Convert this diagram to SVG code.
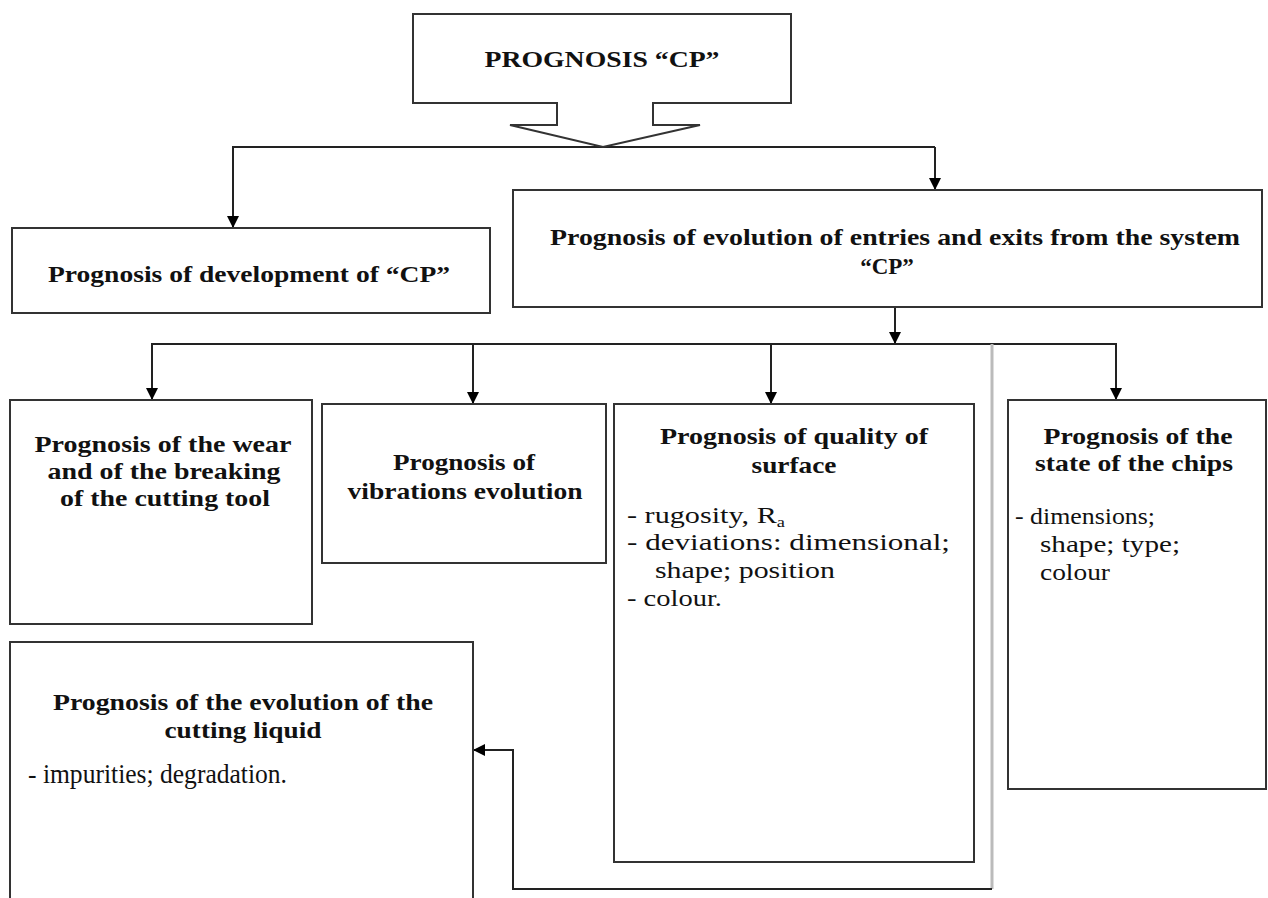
<svg xmlns="http://www.w3.org/2000/svg" width="1268" height="898" viewBox="0 0 1268 898">
<style>
.box{fill:#fff;stroke:#333;stroke-width:2}
.t{font-family:Tinos,"Liberation Serif","Times New Roman","DejaVu Serif",serif;font-weight:bold;font-size:23px;fill:#111;text-anchor:middle}
.b{font-family:Tinos,"Liberation Serif","Times New Roman","DejaVu Serif",serif;font-size:23px;fill:#111}
.big{font-size:28px}
.sub{font-size:14px}
.c{fill:none;stroke:#222;stroke-width:2}
.g{fill:none;stroke:#bbb;stroke-width:3}
</style>
<defs>
<marker id="ah" markerWidth="12" markerHeight="12" refX="11" refY="6" orient="auto" markerUnits="userSpaceOnUse">
<path d="M0,0 L12,6 L0,12 Z" fill="#000"/>
</marker>
</defs>
<rect width="1268" height="898" fill="#fff"/>
<g id="connectors">
<line class="c" x1="232" y1="147" x2="935" y2="147"/>
<line class="c" x1="233" y1="147" x2="233" y2="227" marker-end="url(#ah)"/>
<line class="c" x1="935" y1="147" x2="935" y2="189" marker-end="url(#ah)"/>
<line class="c" x1="895" y1="307" x2="895" y2="343" marker-end="url(#ah)"/>
<line class="c" x1="151" y1="344" x2="1117" y2="344"/>
<line class="c" x1="152" y1="344" x2="152" y2="399" marker-end="url(#ah)"/>
<line class="c" x1="473" y1="344" x2="473" y2="403" marker-end="url(#ah)"/>
<line class="c" x1="771" y1="344" x2="771" y2="403" marker-end="url(#ah)"/>
<line class="c" x1="1116" y1="344" x2="1116" y2="399" marker-end="url(#ah)"/>
<polyline class="g" points="992,344 992,889"/>
<polyline class="c" points="992,889 513,889 513,750 474,750" marker-end="url(#ah)"/>
</g>
<g id="node-top">
<polygon class="box" points="413,14 791,14 791,103 653,103 653,125 700,125 603,147 510,125 557,125 557,103 413,103"/>
<text class="t" x="602" y="67" textLength="235" lengthAdjust="spacingAndGlyphs">PROGNOSIS “CP”</text>
</g>
<g id="node-development">
<rect class="box" x="12" y="228" width="478" height="85"/>
<text class="t" x="249" y="282" textLength="402" lengthAdjust="spacingAndGlyphs">Prognosis of development of “CP”</text>
</g>
<g id="node-entries">
<rect class="box" x="513" y="190" width="749" height="117"/>
<text class="t" x="895" y="245" textLength="690" lengthAdjust="spacingAndGlyphs">Prognosis of evolution of entries and exits from the system</text>
<text class="t" x="887" y="274">“CP”</text>
</g>
<g id="node-wear">
<rect class="box" x="10" y="400" width="302" height="224"/>
<text class="t" x="163" y="452" textLength="257" lengthAdjust="spacingAndGlyphs">Prognosis of the wear</text>
<text class="t" x="164" y="479" textLength="233" lengthAdjust="spacingAndGlyphs">and of the breaking</text>
<text class="t" x="165" y="506" textLength="210" lengthAdjust="spacingAndGlyphs">of the cutting tool</text>
</g>
<g id="node-vibrations">
<rect class="box" x="322" y="404" width="284" height="159"/>
<text class="t" x="464" y="470" textLength="142" lengthAdjust="spacingAndGlyphs">Prognosis of</text>
<text class="t" x="465" y="499" textLength="235" lengthAdjust="spacingAndGlyphs">vibrations evolution</text>
</g>
<g id="node-quality">
<rect class="box" x="614" y="404" width="360" height="458"/>
<text class="t" x="794" y="444" textLength="268" lengthAdjust="spacingAndGlyphs">Prognosis of quality of</text>
<text class="t" x="794" y="473" textLength="85" lengthAdjust="spacingAndGlyphs">surface</text>
<text class="b" x="627" y="523" textLength="158" lengthAdjust="spacingAndGlyphs">- rugosity, R<tspan class="sub" dy="4">a</tspan></text>
<text class="b" x="627" y="550" textLength="323" lengthAdjust="spacingAndGlyphs">- deviations: dimensional;</text>
<text class="b" x="655" y="578" textLength="180" lengthAdjust="spacingAndGlyphs">shape; position</text>
<text class="b" x="627" y="606" textLength="95" lengthAdjust="spacingAndGlyphs">- colour.</text>
</g>
<g id="node-chips">
<rect class="box" x="1008" y="400" width="258" height="389"/>
<text class="t" x="1138" y="444" textLength="189" lengthAdjust="spacingAndGlyphs">Prognosis of the</text>
<text class="t" x="1134" y="471" textLength="198" lengthAdjust="spacingAndGlyphs">state of the chips</text>
<text class="b" x="1015" y="524" textLength="140" lengthAdjust="spacingAndGlyphs">- dimensions;</text>
<text class="b" x="1040" y="552" textLength="140" lengthAdjust="spacingAndGlyphs">shape; type;</text>
<text class="b" x="1040" y="580" textLength="70" lengthAdjust="spacingAndGlyphs">colour</text>
</g>
<g id="node-liquid">
<rect class="box" x="10" y="642" width="463" height="270"/>
<text class="t" x="243" y="710" textLength="380" lengthAdjust="spacingAndGlyphs">Prognosis of the evolution of the</text>
<text class="t" x="243" y="738" textLength="157" lengthAdjust="spacingAndGlyphs">cutting liquid</text>
<text class="b big" x="28" y="783" textLength="259" lengthAdjust="spacingAndGlyphs">- impurities; degradation.</text>
</g>
</svg>
